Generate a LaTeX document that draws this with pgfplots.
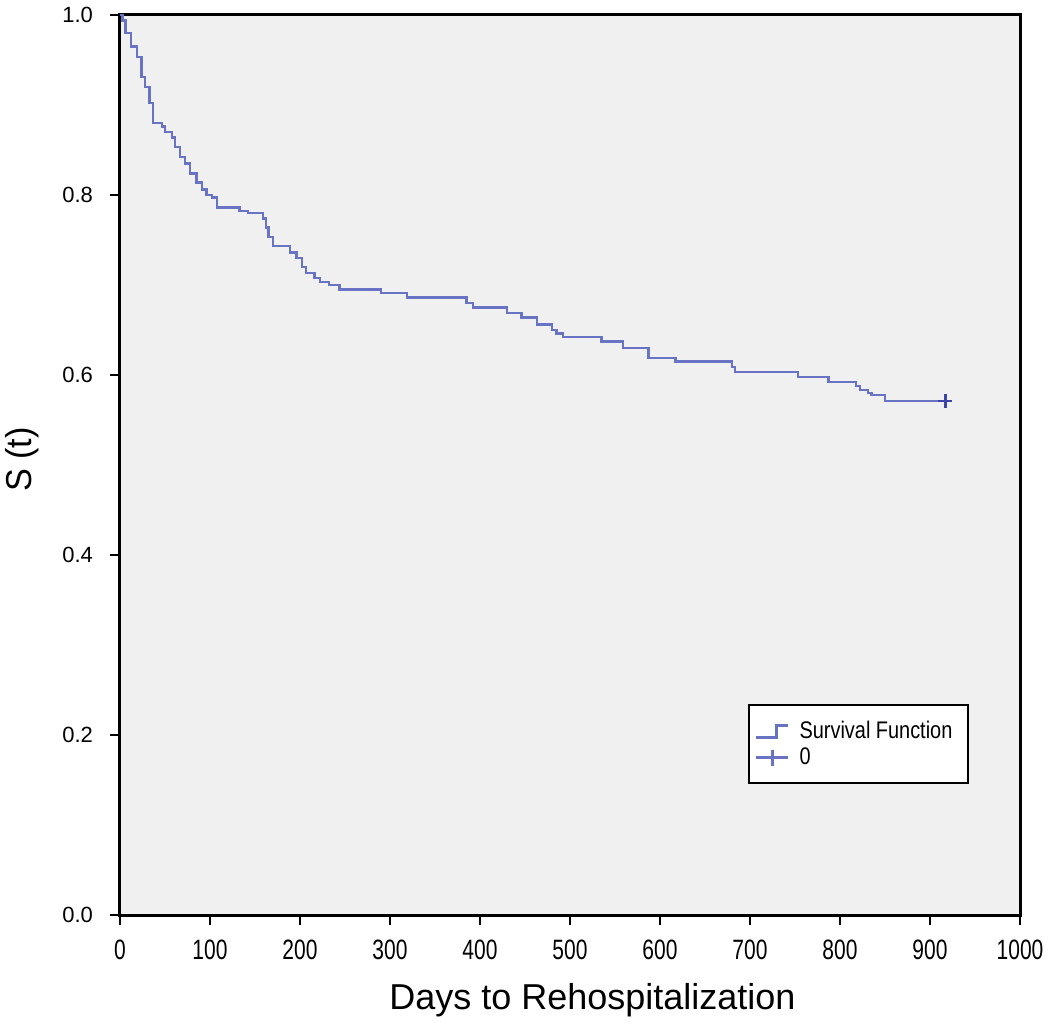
\documentclass[border=0pt]{standalone}
\usepackage{pgfplots}
\pgfplotsset{compat=1.18}
\usepackage{fontspec}
\setmainfont{Liberation Sans}
\definecolor{bgc}{RGB}{240,240,240}
\definecolor{kmline}{RGB}{105,115,195}
\definecolor{kmmark}{RGB}{60,70,170}
\begin{document}
\begin{tikzpicture}
\useasboundingbox (-60bp,-59bp) rectangle (465bp,457.5bp);
\begin{axis}[
  anchor=south west, at={(0,0)},
  width=450bp, height=450bp, scale only axis,
  xmin=0, xmax=1000, ymin=0, ymax=1,
  xtick={0,100,200,300,400,500,600,700,800,900,1000},
  ytick={0,0.2,0.4,0.6,0.8,1.0},
  /pgf/number format/assume math mode=true,
  xticklabel={\scalebox{0.75}[1]{\pgfmathprintnumber[fixed,precision=0,1000 sep={}]{\tick}}},
  yticklabel={\pgfmathprintnumber[fixed,fixed zerofill,precision=1]{\tick}},
  xticklabel style={font=\fontsize{14bp}{16bp}\selectfont, black, yshift=-4bp},
  yticklabel style={font=\fontsize{11bp}{13bp}\selectfont, black, xshift=-5bp},
  xtick pos=bottom, ytick pos=left,
  tick align=outside,
  major tick length=5bp,
  every tick/.style={black, line width=1.2bp},
  axis line style={black, line width=1.5bp},
  axis background/.style={fill=bgc},
  xlabel={Days to Rehospitalization},
  ylabel={\scalebox{0.95}[1]{S (t)}},
  every axis x label/.style={at={(axis description cs:0.525,0)}, anchor=center, yshift=-42.5bp, font=\fontsize{18bp}{20bp}\selectfont},
  every axis y label/.style={at={(axis description cs:-0.109,0.506)}, anchor=center, rotate=90, font=\fontsize{18bp}{20bp}\selectfont},
  legend style={at={(axis description cs:0.698,0.234)}, anchor=north west,
    draw=black, line width=1bp, fill=white, font=\fontsize{12bp}{14bp}\selectfont,
    inner xsep=3bp, inner ysep=6bp, row sep=-1bp,
    nodes={inner xsep=5bp}},
  legend cell align=left,
]
\addplot[const plot, color=kmline, line width=1.2bp,
  legend image code/.code={\draw[kmline, line width=1.2bp] (0bp,-3bp) -- (10bp,-3bp) -- (10bp,3bp) -- (16bp,3bp);}]
coordinates {
(0,1.0) (3,0.994) (6,0.98) (12,0.965) (19,0.953) (24,0.931) (28,0.92)
(33,0.902) (37,0.88) (47,0.876) (50,0.87) (58,0.864) (61,0.853) (67,0.842)
(72,0.835) (78,0.824) (85,0.814) (91,0.806) (96,0.80) (102,0.797) (108,0.786)
(133,0.782) (142,0.780) (159,0.774) (162,0.764) (165,0.753) (170,0.743)
(189,0.736) (196,0.730) (202,0.720) (207,0.713) (216,0.708) (222,0.703)
(232,0.700) (244,0.695) (290,0.691) (319,0.686) (385,0.680) (392,0.675)
(430,0.669) (446,0.664) (463,0.656) (480,0.650) (485,0.646) (492,0.642)
(535,0.637) (559,0.630) (587,0.619) (617,0.615) (680,0.609) (683,0.603)
(753,0.598) (787,0.592) (818,0.588) (822,0.583) (831,0.580) (835,0.578)
(850,0.571) (917,0.571)
};
\addlegendentry{\scalebox{0.83}[1]{Survival Function}}
\addplot[only marks, mark=+, mark size=3.5bp, color=kmmark, line width=1.2bp,
  legend image code/.code={\draw[kmline, line width=1.2bp] (0bp,0bp) -- (16bp,0bp); \draw[kmline, line width=1.2bp] (8bp,-4bp) -- (8bp,4bp);}]
coordinates {(917,0.571)};
\addlegendentry{\scalebox{0.83}[1]{0}}
\end{axis}
\end{tikzpicture}
\end{document}
